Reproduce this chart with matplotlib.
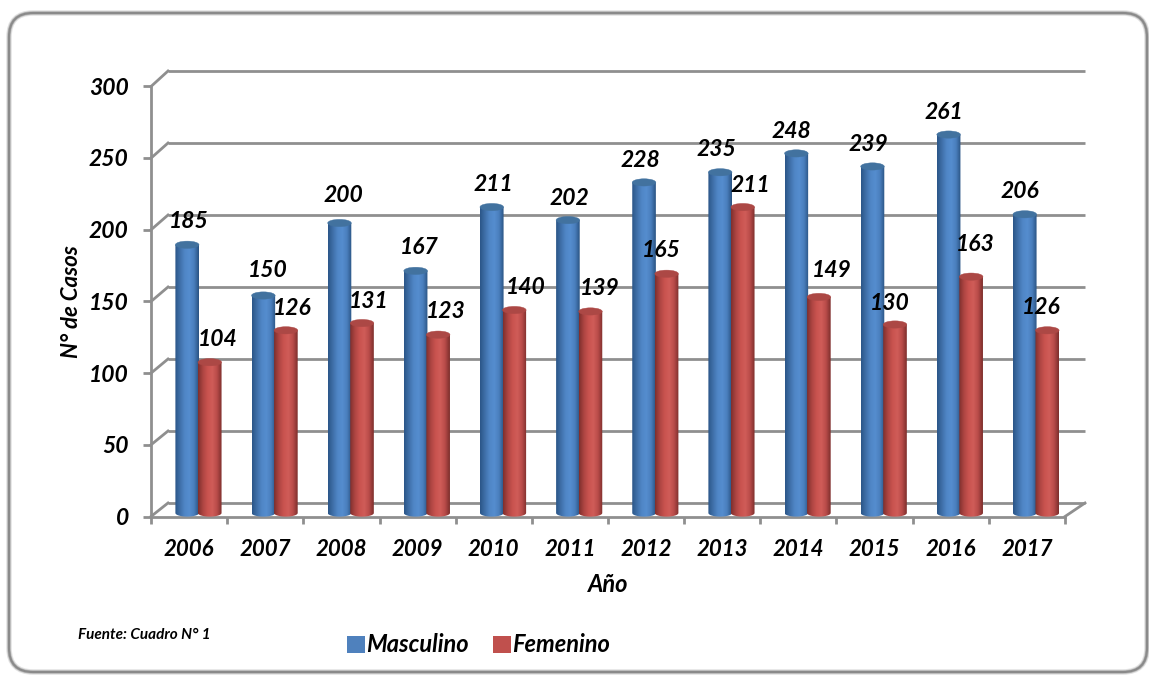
import matplotlib
matplotlib.use("Agg")
import matplotlib.pyplot as plt
import numpy as np
from matplotlib.colors import LinearSegmentedColormap
from matplotlib.patches import Ellipse, FancyBboxPatch, Patch, Polygon

years = ["2006", "2007", "2008", "2009", "2010", "2011", "2012", "2013", "2014", "2015", "2016", "2017"]
masculino = [185, 150, 200, 167, 211, 202, 228, 235, 248, 239, 261, 206]
femenino = [104, 126, 131, 123, 140, 139, 165, 211, 149, 130, 163, 126]
y_ticks = [0, 50, 100, 150, 200, 250, 300]

# label nudges in pixels, the labels sit unevenly in the original
masc_dx = [2, 4, 4, 4, 2, 2, -4, -4, -5, -4, -5, -5]
masc_dy = [23, 25, 28, 23, 23, 22, 22, 23, 22, 22, 22, 23]
fem_dx = [8, 6, 7, 8, 11, 9, -5, 8, 13, -5, 4, -6]
fem_dy = [23, 22, 22, 23, 23, 23, 23, 22, 26, 21, 32, 23]

W, H = 1149, 676
GREY = "#8f8f8f"
plt.rcParams["font.family"] = ["Lato", "DejaVu Sans"]
plt.rcParams["font.weight"] = "bold"
plt.rcParams["font.style"] = "italic"

fig = plt.figure(figsize=(W / 100, H / 100), dpi=100, facecolor="white")


def box(x0, y_top, x1, y_bottom):
    return [x0 / W, 1 - y_bottom / H, (x1 - x0) / W, (y_bottom - y_top) / H]


# pixel layer: card border and the slanted wall lines
bg = fig.add_axes([0, 0, 1, 1])
bg.set_xlim(0, W)
bg.set_ylim(H, 0)
bg.axis("off")
for lw, col in [(4, "#e2e2e2"), (2.5, "#b5b5b5"), (1.5, "#8a8a8a")]:
    bg.add_patch(FancyBboxPatch((9, 13), 1138, 659, boxstyle="round,pad=0,rounding_size=24",
                                fc="none", ec=col, lw=lw))

# back wall
back = fig.add_axes(box(168, 71, 1085, 503))
back.set_xlim(0, 12)
back.set_ylim(0, 300)
back.axis("off")
back.patch.set_alpha(0)
back.hlines(y_ticks, 0, 12, color=GREY, lw=2, clip_on=False)

for v in y_ticks:
    y_f = 516.5 - v * 430 / 300
    y_b = 503 - v * 432 / 300
    bg.plot([151, 168], [y_f, y_b], color=GREY, lw=2)
bg.plot([1065, 1085], [516.5, 503], color=GREY, lw=2)

# front plane holds ticks and labels
front = fig.add_axes(box(151, 86, 1065, 516.5))
front.set_xlim(0, 12)
front.set_ylim(0, 300)
front.patch.set_alpha(0)
for s in ["top", "right"]:
    front.spines[s].set_visible(False)
for s in ["left", "bottom"]:
    front.spines[s].set_color(GREY)
    front.spines[s].set_linewidth(2)
front.set_yticks(y_ticks)
front.set_xticks(range(13))
front.set_xticklabels([])
front.set_xticks(np.arange(12) + 0.5, years, minor=True)
front.tick_params(axis="x", which="major", length=5, width=2, color=GREY)
front.tick_params(axis="x", which="minor", length=0, pad=16, labelsize=16)
front.tick_params(axis="y", length=6, width=2, color=GREY, pad=10, labelsize=16.5)
fig.text(71 / W, 1 - 302 / H, "N° de Casos", rotation=90, ha="center", va="center", fontsize=16)
fig.text(608 / W, 1 - 585 / H, "Año", ha="center", va="center", fontsize=17)
fig.text(78 / W, 1 - 635 / H, "Fuente: Cuadro N° 1", ha="left", va="center", fontsize=11)

# cylinders
ax = fig.add_axes(box(160.4, 78, 1074.1, 513))
ax.set_xlim(-0.5, 11.5)
ax.set_ylim(0, 300)
ax.axis("off")
ax.patch.set_alpha(0)

blue_cm = LinearSegmentedColormap.from_list("b", ["#2b5688", "#3f6fa8", "#4f86c6", "#558dcf", "#4a7fbd", "#2a5383"])
red_cm = LinearSegmentedColormap.from_list("r", ["#7f2f2d", "#ad4542", "#c9534f", "#d05c58", "#b94c49", "#7d2e2c"])
grad = np.linspace(0, 1, 64).reshape(1, -1)
bw = 0.31
eh = 5.0


def cylinder(xc, value, cmap, top_col):
    t = np.linspace(np.pi, 2 * np.pi, 30)
    pts = [(xc - bw / 2, value)]
    pts += [(xc + bw / 2 * np.cos(a), eh / 2 * np.sin(a)) for a in t]
    pts += [(xc + bw / 2, value)]
    clip = Polygon(pts, closed=True, transform=ax.transData, fc="none", ec="none")
    ax.add_patch(clip)
    im = ax.imshow(grad, cmap=cmap, aspect="auto", extent=(xc - bw / 2, xc + bw / 2, -eh, value), zorder=3)
    im.set_clip_box(fig.bbox)
    im.set_clip_path(clip)
    ax.add_patch(Ellipse((xc, value), bw, eh, fc=top_col, ec=top_col, lw=0.3, zorder=4, clip_on=False))


for i in range(len(years)):
    cylinder(i - 0.148, masculino[i], blue_cm, "#42729f")
    cylinder(i + 0.148, femenino[i], red_cm, "#ac4845")
ax.set_xlim(-0.5, 11.5)
ax.set_ylim(0, 300)

for i in range(len(years)):
    ax.annotate(str(masculino[i]), (i - 0.148, masculino[i]), xytext=(masc_dx[i], masc_dy[i]),
                textcoords="offset pixels", ha="center", va="center", fontsize=16.5, color="black",
                zorder=6, annotation_clip=False)
    ax.annotate(str(femenino[i]), (i + 0.148, femenino[i]), xytext=(fem_dx[i], fem_dy[i]),
                textcoords="offset pixels", ha="center", va="center", fontsize=16.5, color="black",
                zorder=6, annotation_clip=False)

handles = [Patch(fc="#4f81bd", label="Masculino"), Patch(fc="#c0504d", label="Femenino")]
fig.legend(handles=handles, loc="center left", bbox_to_anchor=(326 / W, 1 - 645 / H), ncol=2, frameon=False,
           fontsize=17, handlelength=0.75, handleheight=0.75, handletextpad=0.05, columnspacing=1.03)

fig.savefig("out.png", dpi=100)
